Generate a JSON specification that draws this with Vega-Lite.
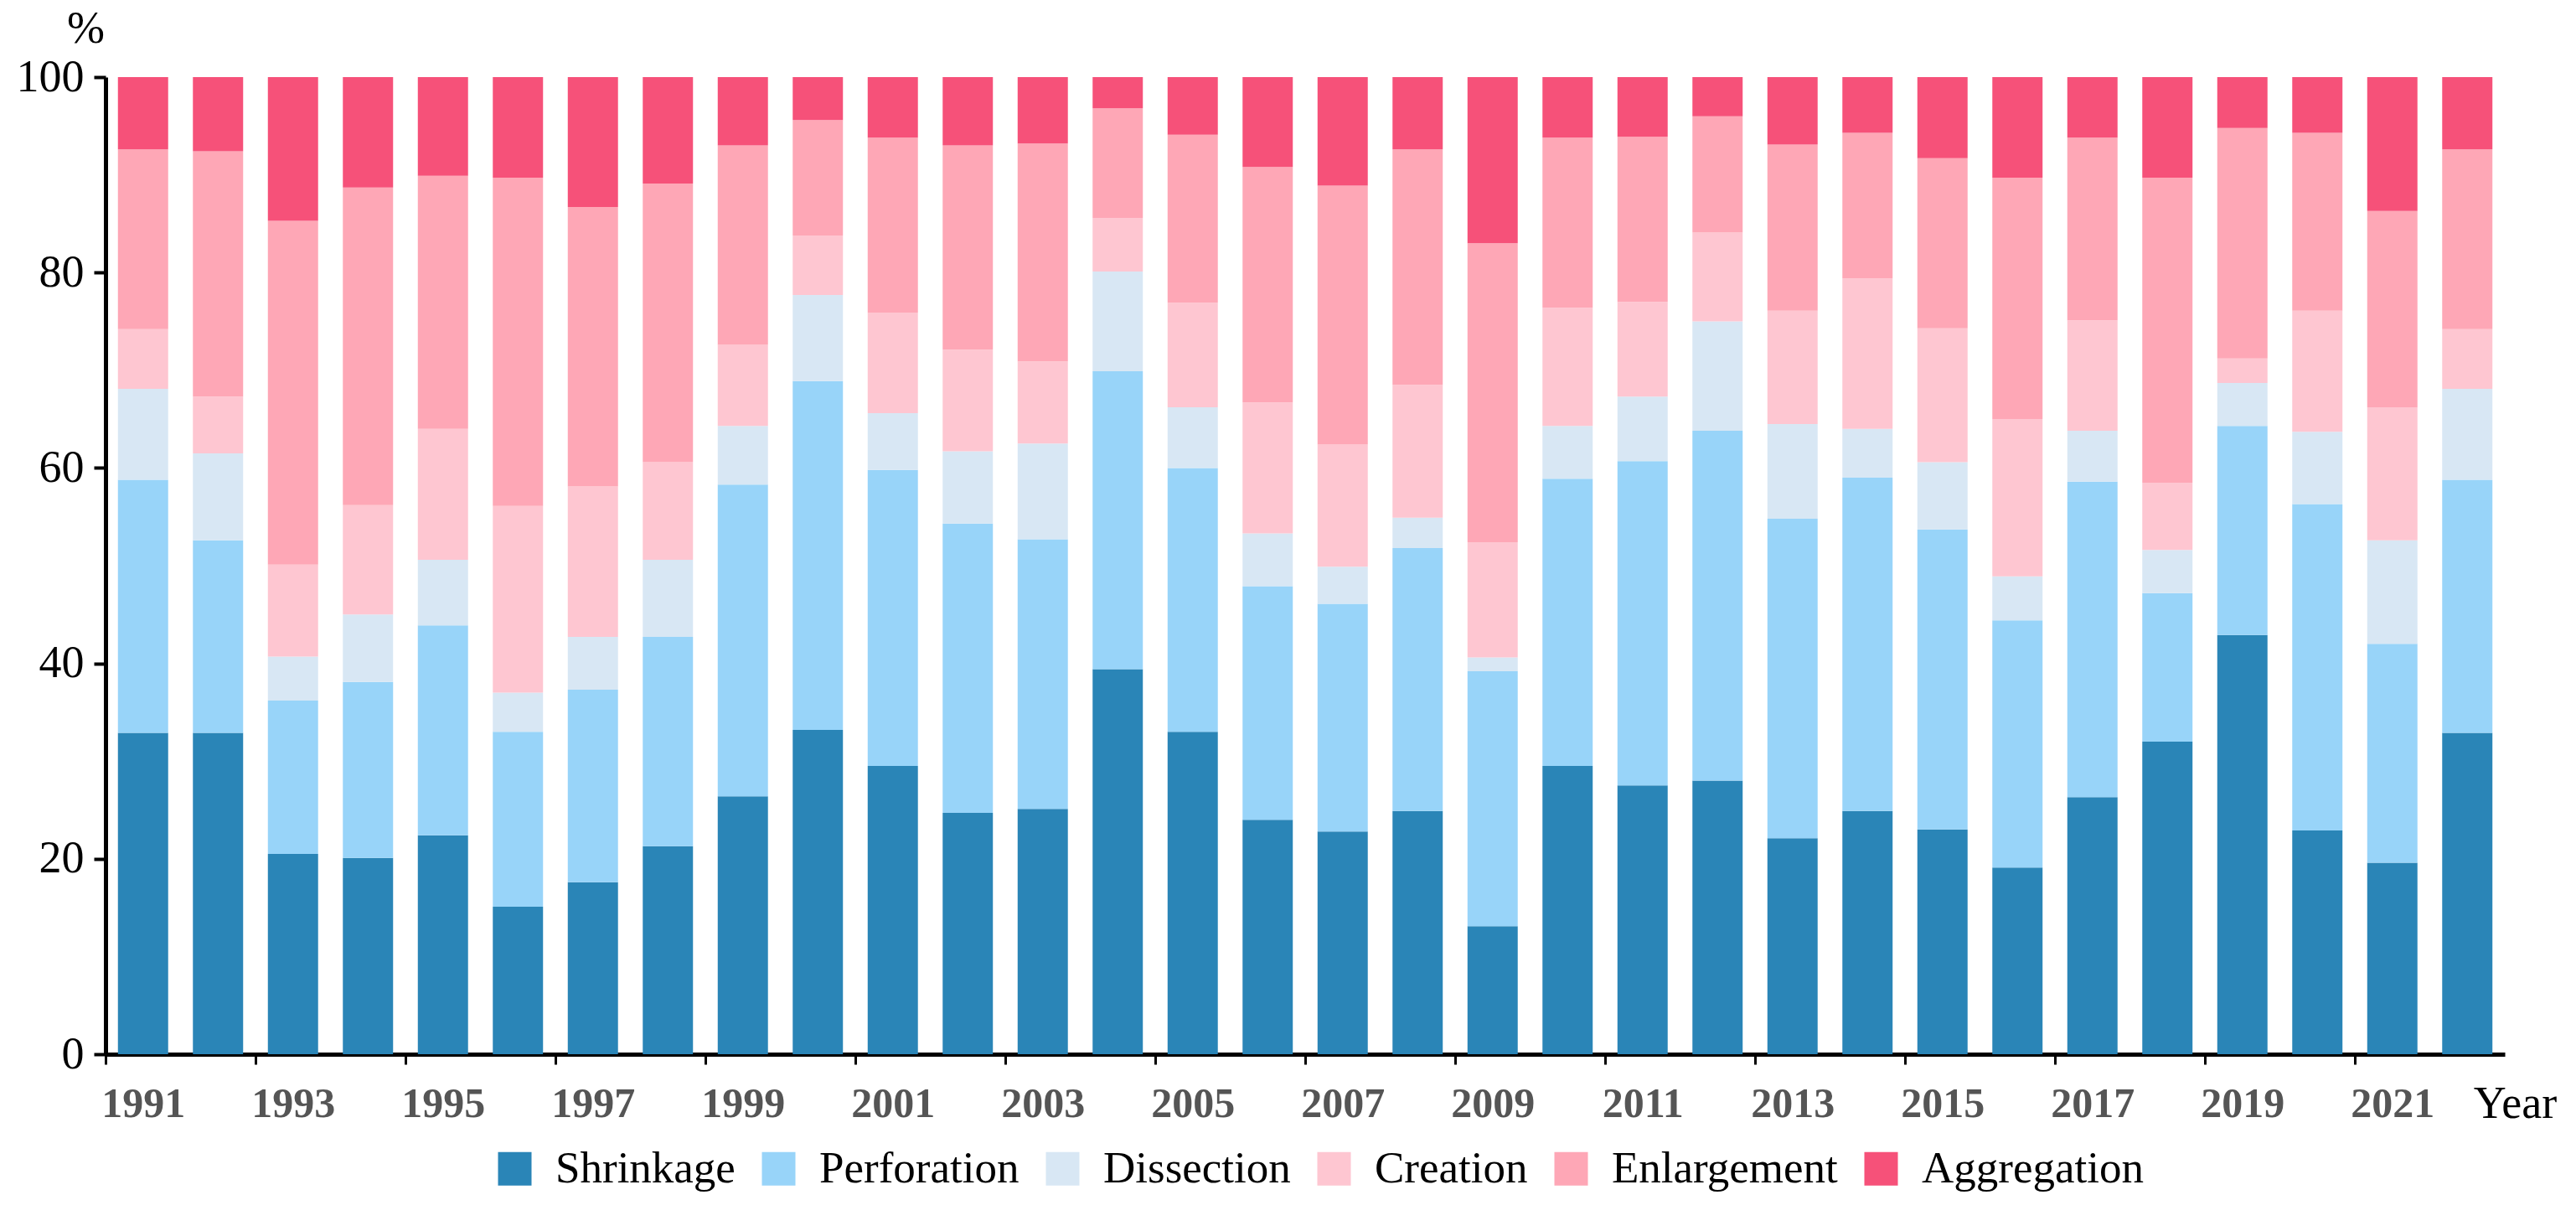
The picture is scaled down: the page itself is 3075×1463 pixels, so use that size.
{
  "$schema": "https://vega.github.io/schema/vega-lite/v6.json",
  "width": 2864,
  "height": 1166,
  "autosize": {"type": "none"},
  "padding": {"left": 126, "top": 92, "right": 85, "bottom": 205},
  "background": "white",
  "config": {"view": {"stroke": null}, "font": "Liberation Serif"},
  "data": {
    "values": [
      {"year": 1991, "Shrinkage": 32.9, "Perforation": 25.9, "Dissection": 9.3, "Creation": 6.1, "Enlargement": 18.4, "Aggregation": 7.4},
      {"year": 1992, "Shrinkage": 32.9, "Perforation": 19.7, "Dissection": 8.9, "Creation": 5.8, "Enlargement": 25.1, "Aggregation": 7.6},
      {"year": 1993, "Shrinkage": 20.5, "Perforation": 15.7, "Dissection": 4.5, "Creation": 9.4, "Enlargement": 35.2, "Aggregation": 14.7},
      {"year": 1994, "Shrinkage": 20.1, "Perforation": 18.0, "Dissection": 6.9, "Creation": 11.2, "Enlargement": 32.5, "Aggregation": 11.3},
      {"year": 1995, "Shrinkage": 22.4, "Perforation": 21.5, "Dissection": 6.7, "Creation": 13.4, "Enlargement": 25.9, "Aggregation": 10.1},
      {"year": 1996, "Shrinkage": 15.1, "Perforation": 17.9, "Dissection": 4.0, "Creation": 19.1, "Enlargement": 33.6, "Aggregation": 10.3},
      {"year": 1997, "Shrinkage": 17.6, "Perforation": 19.7, "Dissection": 5.4, "Creation": 15.4, "Enlargement": 28.6, "Aggregation": 13.3},
      {"year": 1998, "Shrinkage": 21.3, "Perforation": 21.4, "Dissection": 7.9, "Creation": 10.0, "Enlargement": 28.5, "Aggregation": 10.9},
      {"year": 1999, "Shrinkage": 26.4, "Perforation": 31.9, "Dissection": 6.0, "Creation": 8.3, "Enlargement": 20.4, "Aggregation": 7.0},
      {"year": 2000, "Shrinkage": 33.2, "Perforation": 35.7, "Dissection": 8.8, "Creation": 6.1, "Enlargement": 11.8, "Aggregation": 4.4},
      {"year": 2001, "Shrinkage": 29.5, "Perforation": 30.3, "Dissection": 5.8, "Creation": 10.3, "Enlargement": 17.9, "Aggregation": 6.2},
      {"year": 2002, "Shrinkage": 24.7, "Perforation": 29.6, "Dissection": 7.4, "Creation": 10.4, "Enlargement": 20.9, "Aggregation": 7.0},
      {"year": 2003, "Shrinkage": 25.1, "Perforation": 27.6, "Dissection": 9.8, "Creation": 8.4, "Enlargement": 22.3, "Aggregation": 6.8},
      {"year": 2004, "Shrinkage": 39.4, "Perforation": 30.5, "Dissection": 10.2, "Creation": 5.5, "Enlargement": 11.2, "Aggregation": 3.2},
      {"year": 2005, "Shrinkage": 33.0, "Perforation": 27.0, "Dissection": 6.2, "Creation": 10.7, "Enlargement": 17.2, "Aggregation": 5.9},
      {"year": 2006, "Shrinkage": 24.0, "Perforation": 23.9, "Dissection": 5.4, "Creation": 13.4, "Enlargement": 24.1, "Aggregation": 9.2},
      {"year": 2007, "Shrinkage": 22.8, "Perforation": 23.3, "Dissection": 3.8, "Creation": 12.5, "Enlargement": 26.5, "Aggregation": 11.1},
      {"year": 2008, "Shrinkage": 24.9, "Perforation": 26.9, "Dissection": 3.1, "Creation": 13.6, "Enlargement": 24.1, "Aggregation": 7.4},
      {"year": 2009, "Shrinkage": 13.1, "Perforation": 26.1, "Dissection": 1.4, "Creation": 11.8, "Enlargement": 30.6, "Aggregation": 17.0},
      {"year": 2010, "Shrinkage": 29.5, "Perforation": 29.4, "Dissection": 5.4, "Creation": 12.1, "Enlargement": 17.4, "Aggregation": 6.2},
      {"year": 2011, "Shrinkage": 27.5, "Perforation": 33.2, "Dissection": 6.6, "Creation": 9.7, "Enlargement": 16.9, "Aggregation": 6.1},
      {"year": 2012, "Shrinkage": 28.0, "Perforation": 35.8, "Dissection": 11.2, "Creation": 9.1, "Enlargement": 11.9, "Aggregation": 4.0},
      {"year": 2013, "Shrinkage": 22.1, "Perforation": 32.7, "Dissection": 9.7, "Creation": 11.6, "Enlargement": 17.0, "Aggregation": 6.9},
      {"year": 2014, "Shrinkage": 24.9, "Perforation": 34.1, "Dissection": 5.0, "Creation": 15.4, "Enlargement": 14.9, "Aggregation": 5.7},
      {"year": 2015, "Shrinkage": 23.0, "Perforation": 30.7, "Dissection": 6.9, "Creation": 13.7, "Enlargement": 17.4, "Aggregation": 8.3},
      {"year": 2016, "Shrinkage": 19.1, "Perforation": 25.3, "Dissection": 4.5, "Creation": 16.1, "Enlargement": 24.7, "Aggregation": 10.3},
      {"year": 2017, "Shrinkage": 26.3, "Perforation": 32.3, "Dissection": 5.2, "Creation": 11.3, "Enlargement": 18.7, "Aggregation": 6.2},
      {"year": 2018, "Shrinkage": 32.0, "Perforation": 15.2, "Dissection": 4.4, "Creation": 6.9, "Enlargement": 31.2, "Aggregation": 10.3},
      {"year": 2019, "Shrinkage": 42.9, "Perforation": 21.4, "Dissection": 4.4, "Creation": 2.5, "Enlargement": 23.6, "Aggregation": 5.2},
      {"year": 2020, "Shrinkage": 22.9, "Perforation": 33.4, "Dissection": 7.4, "Creation": 12.4, "Enlargement": 18.2, "Aggregation": 5.7},
      {"year": 2021, "Shrinkage": 19.6, "Perforation": 22.4, "Dissection": 10.6, "Creation": 13.6, "Enlargement": 20.1, "Aggregation": 13.7},
      {"year": 2022, "Shrinkage": 32.9, "Perforation": 25.9, "Dissection": 9.3, "Creation": 6.1, "Enlargement": 18.4, "Aggregation": 7.4}
    ]
  },
  "transform": [
    {"fold": ["Shrinkage", "Perforation", "Dissection", "Creation", "Enlargement", "Aggregation"], "as": ["type", "value"]},
    {"window": [{"op": "row_number", "as": "k"}], "groupby": ["year"]}
  ],
  "mark": {"type": "bar"},
  "encoding": {
    "x": {
      "field": "year",
      "type": "ordinal",
      "scale": {"paddingInner": 0.33, "paddingOuter": 0.165},
      "axis": {
        "values": [1991, 1993, 1995, 1997, 1999, 2001, 2003, 2005, 2007, 2009, 2011, 2013, 2015, 2017, 2019, 2021],
        "title": "Year",
        "titleX": 2876,
        "titleY": 75,
        "titleAngle": 0,
        "titleAlign": "center",
        "titleBaseline": "alphabetic",
        "titleFont": "Liberation Serif",
        "titleFontSize": 54,
        "titleFontWeight": "normal",
        "titleColor": "black",
        "labelAngle": 0,
        "labelFont": "Liberation Serif",
        "labelFontSize": 50,
        "labelFontWeight": "bold",
        "labelColor": "#555555",
        "labelPadding": 22,
        "tickOffset": -44.75,
        "labelOffset": 44.75,
        "tickSize": 12,
        "tickWidth": 3,
        "tickColor": "black",
        "domainColor": "black",
        "domainWidth": 5
      }
    },
    "y": {
      "field": "value",
      "type": "quantitative",
      "stack": "zero",
      "scale": {"domain": [0, 100], "nice": false},
      "axis": {
        "values": [0, 20, 40, 60, 80, 100],
        "title": "%",
        "titleAngle": 0,
        "titleX": -24,
        "titleY": -42,
        "titleAlign": "center",
        "titleBaseline": "alphabetic",
        "titleFont": "Liberation Serif",
        "titleFontSize": 54,
        "titleFontWeight": "normal",
        "titleColor": "black",
        "labelFont": "Liberation Serif",
        "labelFontSize": 54,
        "labelColor": "black",
        "labelPadding": 12,
        "tickSize": 14,
        "tickWidth": 4,
        "tickColor": "black",
        "domainColor": "black",
        "domainWidth": 5,
        "grid": false
      }
    },
    "order": {"field": "k", "type": "quantitative", "sort": "ascending"},
    "color": {
      "field": "type",
      "type": "nominal",
      "sort": ["Shrinkage", "Perforation", "Dissection", "Creation", "Enlargement", "Aggregation"],
      "scale": {
        "domain": ["Shrinkage", "Perforation", "Dissection", "Creation", "Enlargement", "Aggregation"],
        "range": ["#2a85b7", "#98d4f9", "#d8e7f4", "#fec6d1", "#fea7b6", "#f65179"]
      },
      "legend": {
        "orient": "none",
        "legendX": 462,
        "legendY": 1276,
        "direction": "horizontal",
        "title": null,
        "symbolType": "square",
        "symbolSize": 1600,
        "symbolStrokeWidth": 0,
        "labelFont": "Liberation Serif",
        "labelFontSize": 53,
        "labelColor": "black",
        "labelLimit": 0,
        "labelOffset": 22,
        "columnPadding": 25
      }
    }
  }
}
